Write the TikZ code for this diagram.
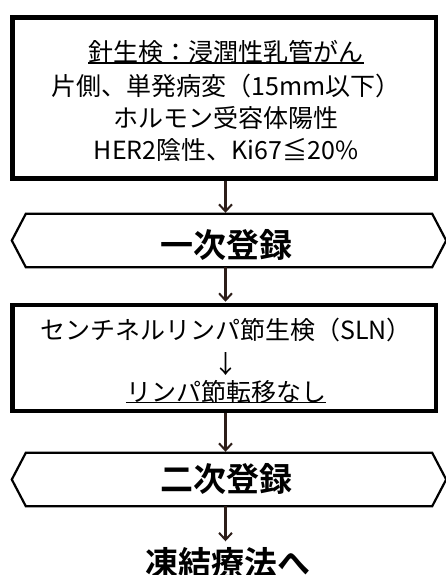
\documentclass[tikz,border=0pt]{standalone}
\usepackage{fontspec}
\setmainfont{Noto Sans CJK JP}[BoldFont={Noto Sans CJK JP Bold}]
\usetikzlibrary{arrows.meta,calc}
\definecolor{arrowc}{RGB}{45,30,25}
\begin{document}
\begin{tikzpicture}[x=1pt,y=-1pt,
 box/.style={draw=black,line width=4.5pt,rectangle,inner sep=0pt},
 txt/.style={inner sep=0pt,font=\fontsize{25}{30}\selectfont},
 big/.style={inner sep=0pt,font=\fontsize{33}{38}\selectfont\bfseries},
 hexnode/.style={inner sep=0pt,minimum width=434pt,minimum height=53pt},
 hexline/.style={draw=black,line width=2.2pt,line join=miter},
 arr/.style={draw=arrowc,line width=2.6pt,-{Straight Barb[length=7pt,width=13pt,line width=2pt]}},
 uline/.style={line width=1.4pt}]
\path[use as bounding box] (0,0) rectangle (445,575);
\fill[white] (0,0) rectangle (445,575);
\coordinate (a) at (225.5,0);
% box 1
\node[box,minimum width=423.5pt,minimum height=161pt] (b1) at (224.25,98) {};
\node[txt] (t1) at (226,52) {針生検：浸潤性乳管がん};
\draw[uline] ([yshift=1pt]t1.south west) -- ([yshift=1pt]t1.south east);
\node[txt] (t2) at (226,86) {片側、単発病変（15mm以下）};
\node[txt] (t3) at (226,118) {ホルモン受容体陽性};
\node[txt] (t4) at (226,150) {HER2陰性、Ki67≦20\%};
% hex 1
\node[hexnode] (h1) at (229,240.5) {};
\draw[hexline] (h1.west) -- ([xshift=14pt]h1.north west) -- ([xshift=-14pt]h1.north east) -- (h1.east) -- ([xshift=-14pt]h1.south east) -- ([xshift=14pt]h1.south west) -- cycle;
\node[big] (h1t) at (226.5,245) {一次登録};
% box 2
\node[box,minimum width=423.5pt,minimum height=106pt] (b2) at (224.25,358) {};
\node[txt] (s1) at (226,330) {センチネルリンパ節生検（SLN）};
\node[txt] (s2) at (226,364) {↓};
\node[txt] (s3) at (226,392) {リンパ節転移なし};
\draw[uline] ([yshift=1pt]s3.south west) -- ([yshift=1pt]s3.south east);
% hex 2
\node[hexnode] (h2) at (229,479.5) {};
\draw[hexline] (h2.west) -- ([xshift=14pt]h2.north west) -- ([xshift=-14pt]h2.north east) -- (h2.east) -- ([xshift=-14pt]h2.south east) -- ([xshift=14pt]h2.south west) -- cycle;
\node[big] (h2t) at (226.5,479) {二次登録};
% final
\node[big] (fin) at (227.5,563) {凍結療法へ};
% arrows
\draw[arr] (b1.south -| a) -- ([yshift=1pt]h1.north -| a);
\draw[arr] (h1.south -| a) -- ([yshift=1pt]b2.north -| a);
\draw[arr] (b2.south -| a) -- ([yshift=1pt]h2.north -| a);
\draw[arr] (h2.south -| a) -- ([yshift=6pt]fin.north -| a);
\end{tikzpicture}
\end{document}
